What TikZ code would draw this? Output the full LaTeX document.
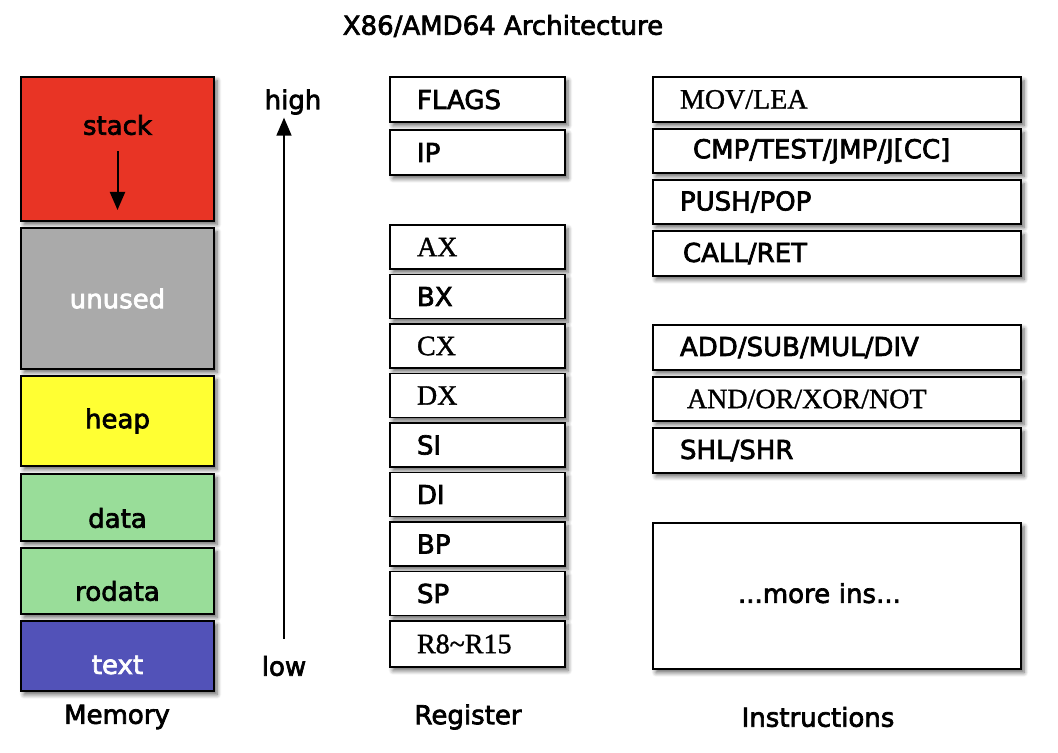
\documentclass[tikz,border=0pt]{standalone}
\usepackage{fontspec}
\setmainfont{DejaVu Sans}[FakeBold=2.6]
\newfontfamily\lightfont{Liberation Serif}[FakeBold=1.2]
\usetikzlibrary{arrows.meta,positioning,shadows.blur}

\definecolor{stackred}{RGB}{232,52,37}
\definecolor{unusedgray}{RGB}{170,170,170}
\definecolor{heapyellow}{RGB}{255,255,51}
\definecolor{datagreen}{RGB}{153,221,153}
\definecolor{textblue}{RGB}{82,82,184}

\begin{document}
\begin{tikzpicture}[
  x=0.5pt,y=-0.5pt,
  font=\fontsize{13}{15}\selectfont,
  shadowed/.style={blur shadow={shadow xshift=1.5pt,shadow yshift=-1.8pt,
    shadow blur steps=6,shadow opacity=60}},
  mem/.style={draw,line width=0.7pt,outer sep=0pt,shadowed,minimum width=96.5pt,inner sep=0pt},
  reg/.style={draw,line width=0.7pt,outer sep=0pt,fill=white,shadowed,text width=60.5pt,
    inner xsep=13.5pt,inner ysep=0pt,align=left,minimum height=22pt},
  ins/.style={reg,text width=157pt},
  serif/.style={font=\lightfont\fontsize{14}{15}\selectfont},
  node distance=3.5pt,>={Triangle[length=9pt,width=7.5pt]}]
\useasboundingbox (0,0) rectangle (1058,753);

\node (title) at (503,26) {X86/AMD64 Architecture};

% memory layout
\node[mem,fill=stackred,minimum height=72pt,anchor=north] (stack) at (117.5,77) {};
\node[mem,fill=unusedgray,minimum height=70.5pt,below=of stack] (unused) {};
\node[mem,fill=heapyellow,minimum height=45pt,below=of unused] (heap) {};
\node[mem,fill=datagreen,minimum height=33.5pt,below=4pt of heap] (data) {};
\node[mem,fill=datagreen,minimum height=33pt,below=of data] (rodata) {};
\node[mem,fill=textblue,minimum height=35pt,below=of rodata] (text) {};
\node (stacklbl) at ([yshift=-24pt]stack.north) {stack};
\node[text=white] (unusedlbl) at (unused) {unused};
\node (heaplbl) at (heap) {heap};
\node (datalbl) at ([yshift=11.5pt]data.south) {data};
\node (rodatalbl) at ([yshift=11.5pt]rodata.south) {rodata};
\node[text=white] (textlbl) at ([yshift=13pt]text.south) {text};
\coordinate (stackend) at ([yshift=5.5pt]stack.south);
\draw[->,line width=1pt] ([yshift=-4.5pt]stacklbl.south) -- (stackend);
\node (memory) at (117,717) {Memory};

% address direction
\node (high) at (293,102) {high};
\node (low) at (284,666) {low};
\draw[->,line width=0.8pt] ([yshift=5pt]low.north) -- ([yshift=2pt]low.north |- high.south);

% registers
\node[reg,minimum height=22.5pt,anchor=north] (flags) at (477.5,77) {FLAGS};
\node[reg,minimum height=22.5pt,below=4pt of flags] (ip) {IP};
\node[reg,serif,below=25pt of ip] (ax) {AX};
\node[reg,below=2.75pt of ax] (bx) {BX};
\node[reg,serif,below=2.75pt of bx] (cx) {CX};
\node[reg,serif,below=2.75pt of cx] (dx) {DX};
\node[reg,below=2.75pt of dx] (si) {SI};
\node[reg,below=2.75pt of si] (di) {DI};
\node[reg,below=2.75pt of di] (bp) {BP};
\node[reg,below=2.75pt of bp] (sp) {SP};
\node[reg,serif,minimum height=23pt,below=2.75pt of sp] (rx) {R8\textasciitilde R15};
\node (register) at (468,717) {Register};

% instructions
\node[ins,serif,minimum height=22.5pt,anchor=north] (mov) at (837,77) {MOV/LEA};
\node[ins,below=of mov] (cmp) {\hspace*{6.5pt}CMP/TEST/JMP/J[CC]};
\node[ins,below=of cmp] (push) {PUSH/POP};
\node[ins,minimum height=22.5pt,below=of push] (call) {\hspace*{1.5pt}CALL/RET};
\node[ins,minimum height=22.5pt,below=24.5pt of call] (add) {ADD/SUB/MUL/DIV};
\node[ins,serif,below=of add] (and) {\hspace*{3.5pt}AND/OR/XOR/NOT};
\node[ins,minimum height=22.5pt,below=of and] (shl) {SHL/SHR};
\node[ins,minimum height=73pt,below=25pt of shl] (more) {\hspace*{29pt}\raisebox{3pt}{...more ins...}};
\node (instructions) at (818,717) {Instructions};
\end{tikzpicture}
\end{document}
